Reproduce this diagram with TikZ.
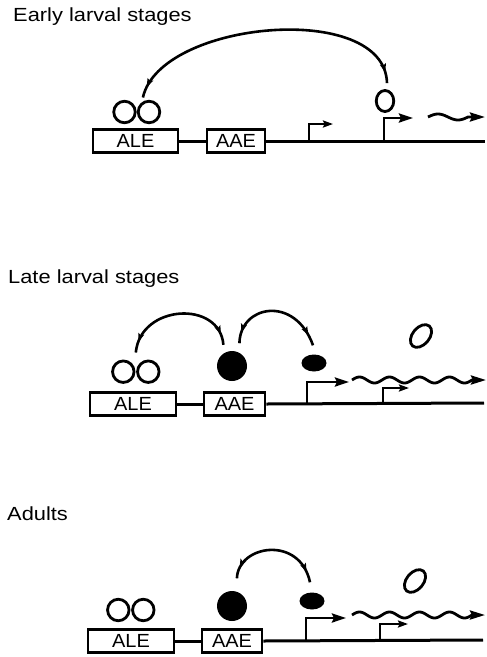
\documentclass[tikz,border=0pt]{standalone}
\usepackage{fontspec}
\setmainfont{Liberation Sans}
\usetikzlibrary{shapes.geometric, arrows.meta, decorations.markings, calc}

\begin{document}
\begin{tikzpicture}[x=1pt, y=-1pt,
  dna/.style={line width=3pt},
  element/.style={draw, line width=2.8pt, minimum height=23.5pt, inner sep=0pt,
    font=\fontsize{19}{20}\selectfont},
  dimer/.style={draw, circle, line width=2.8pt, minimum size=21.5pt, inner sep=0pt},
  activator/.style={draw, ellipse, line width=2.8pt, inner sep=0pt},
  repressor/.style={fill=black, circle, minimum size=30pt, inner sep=0pt},
  corepressor/.style={fill=black, ellipse, minimum width=25pt, minimum height=17pt, inner sep=0pt},
  promoter/.style={line width=2.8pt, -{Stealth[length=14pt,width=9pt,inset=2pt]}},
  minorpromoter/.style={line width=2.6pt, -{Stealth[length=10pt,width=7pt,inset=1.5pt]}},
  transcript/.style={line width=2.8pt, -{Stealth[length=15pt,width=9pt,inset=2pt]}},
  loop/.style={line width=2.6pt, postaction={decorate},
    decoration={markings,
      mark=at position 11pt with {\arrowreversed{Stealth[length=8.5pt,width=6pt,inset=1.5pt]}},
      mark=at position -11pt with {\arrow{Stealth[length=8.5pt,width=6pt,inset=1.5pt]}}}},
  stage/.style={anchor=base west, inner sep=0pt, font=\fontsize{19}{22}\selectfont},
]
\useasboundingbox (0,0) rectangle (487,657);

% ---------- Early larval stages ----------
\node[stage] (t1) at (13,21) {\scalebox{1.15}[1]{Early larval stages}};
\node[element, minimum width=85pt] (ale1) at (135.5,141) {\scalebox{1.05}[1]{ALE}};
\node[element, minimum width=58pt] (aae1) at (236,141) {\scalebox{1.05}[1]{AAE}};
\coordinate (end1) at (485,141);
\draw[dna] (ale1) -- (aae1);
\draw[dna] (aae1.east) -- (end1);
\node[dimer] (d1a) at (124.5,112) {};
\node[dimer] (d1b) at (149,112) {};
\node[activator, minimum width=17.5pt, minimum height=21pt] (e1) at (385,101) {};
\coordinate (tssA1) at (309,141);
\coordinate (tssB1) at (384,141);
\draw[minorpromoter] (tssA1) -- ++(0,-17) -- ++(24,0);
\draw[promoter] (tssB1) -- ++(0,-23) -- ++(29,0);
\draw[transcript] plot[domain=0:40, samples=41] ({428+\x},{117-3*sin(9*\x)}) -- (485,117);
\draw[loop] ($(d1b.120)+(0,-4)$) .. controls +(17,-77) and +(-2,-83) .. ($(e1.north)+(2,-6)$);

% ---------- Late larval stages ----------
\node[stage] (t2) at (8,283) {\scalebox{1.15}[1]{Late larval stages}};
\node[element, minimum width=86pt] (ale2) at (133,404) {\scalebox{1.05}[1]{ALE}};
\node[element, minimum width=61pt] (aae2) at (234.5,404) {\scalebox{1.05}[1]{AAE}};
\coordinate (end2) at (484,403);
\draw[dna] (ale2) -- (aae2);
\draw[dna] (aae2.east) -- (end2);
\node[dimer] (d2a) at (123.3,371.7) {};
\node[dimer] (d2b) at (148.3,371.7) {};
\node[repressor] (r2) at (232,366) {};
\node[corepressor] (c2) at (314,363) {};
\node[activator, minimum width=17pt, minimum height=26pt, rotate=-40] (e2) at (421,336) {};
\coordinate (tssA2) at (307,403);
\coordinate (tssB2) at (383,403);
\draw[promoter] (tssA2) -- ++(0,-21) -- ++(42,0);
\draw[minorpromoter] (tssB2) -- ++(0,-15) -- ++(26,0);
\draw[transcript] plot[domain=0:120, samples=121] ({352+\x},{380-3*sin(12*\x)}) -- (486,380);
\draw[loop] ($(d2a.north)!0.5!(d2b.north)+(0,-7)$) .. controls +(4.5,-48.5) and +(-3.5,-45) .. ($(r2.120)+(-1,-8)$);
\draw[loop] ($(r2.65)+(1,-9)$) .. controls +(0.7,-38.4) and +(-18,-50.5) .. ($(c2.north)+(-1,-9)$);

% ---------- Adults ----------
\node[stage] (t3) at (7,520) {\scalebox{1.15}[1]{Adults}};
\node[element, minimum width=86pt] (ale3) at (131,641) {\scalebox{1.05}[1]{ALE}};
\node[element, minimum width=60pt] (aae3) at (232,641) {\scalebox{1.05}[1]{AAE}};
\coordinate (end3) at (483,640);
\draw[dna] (ale3) -- (aae3);
\draw[dna] (aae3.east) -- (end3);
\node[dimer] (d3a) at (118.3,610) {};
\node[dimer] (d3b) at (143.3,610) {};
\node[repressor] (r3) at (232,606) {};
\node[corepressor] (c3) at (312,601) {};
\node[activator, minimum width=17pt, minimum height=26pt, rotate=-40] (e3) at (415,581) {};
\coordinate (tssA3) at (306,640);
\coordinate (tssB3) at (380,640);
\draw[promoter] (tssA3) -- ++(0,-22) -- ++(40,0);
\draw[minorpromoter] (tssB3) -- ++(0,-16) -- ++(28,0);
\draw[transcript] plot[domain=0:120, samples=121] ({352+\x},{615-3*sin(12*\x)}) -- (485,615);
\draw[loop] ($(r3.75)+(1,-13)$) .. controls +(1,-33.5) and +(-10,-47.5) .. ($(c3.north)+(-2,-10)$);
\end{tikzpicture}
\end{document}
